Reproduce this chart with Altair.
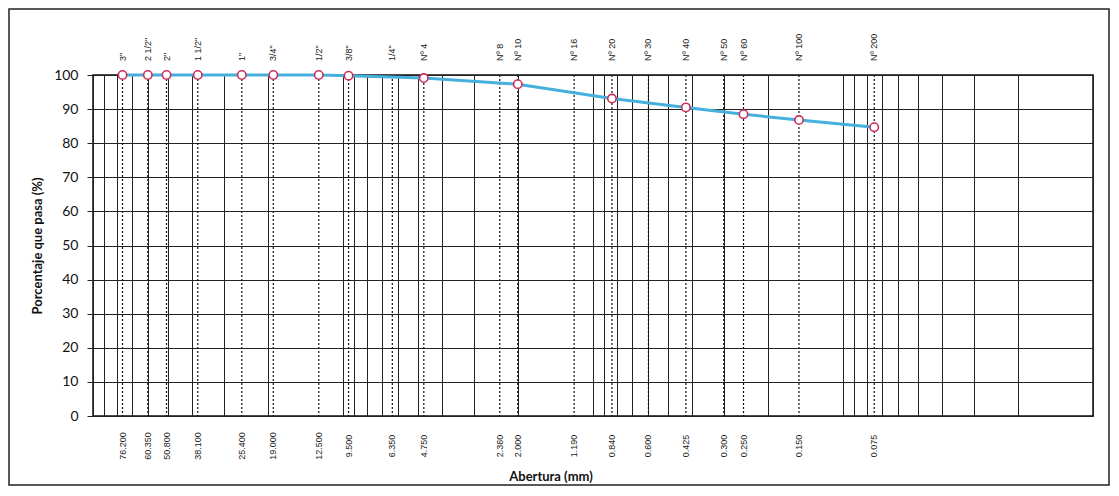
import altair as alt
import pandas as pd

# Sieve designations and openings (mm)
sieve_labels = ['3"', '2 1/2"', '2"', '1 1/2"', '1"', '3/4"', '1/2"', '3/8"', '1/4"', 'Nº 4',
                'Nº 8', 'Nº 10', 'Nº 16', 'Nº 20', 'Nº 30', 'Nº 40', 'Nº 50', 'Nº 60', 'Nº 100', 'Nº 200']
sieve_sizes = [76.2, 60.35, 50.8, 38.1, 25.4, 19.0, 12.5, 9.5, 6.35, 4.75,
               2.36, 2.0, 1.19, 0.84, 0.6, 0.425, 0.3, 0.25, 0.15, 0.075]
size_text = ['76.200', '60.350', '50.800', '38.100', '25.400', '19.000', '12.500', '9.500', '6.350', '4.750',
             '2.360', '2.000', '1.190', '0.840', '0.600', '0.425', '0.300', '0.250', '0.150', '0.075']

# Measured points (opening mm, % passing)
pt_sizes = [76.2, 60.35, 50.8, 38.1, 25.4, 19.0, 12.5, 9.5, 4.75, 2.0, 0.84, 0.425, 0.25, 0.15, 0.075]
pt_pass = [100, 100, 100, 100, 100, 100, 100, 99.8, 99.1, 97.3, 93.1, 90.5, 88.5, 86.8, 84.7]

# log grid lines
grid_vals = [0.01, 0.02, 0.03, 0.04, 0.05, 0.06, 0.07, 0.08, 0.09,
             0.1, 0.2, 0.3, 0.4, 0.5, 0.6, 0.7, 0.8, 0.9,
             1, 2, 3, 4, 5, 6, 7, 8, 9,
             10, 20, 30, 40, 50, 60, 70, 80, 90, 100]
y_ticks = [0, 10, 20, 30, 40, 50, 60, 70, 80, 90, 100]

W, H = 1000, 341
FONT = "Lato"

sieves = pd.DataFrame({"size": sieve_sizes, "label": sieve_labels, "txt": size_text})
pts = pd.DataFrame({"size": pt_sizes, "pass": pt_pass})
one = pd.DataFrame({"a": [0]})

xscale = alt.Scale(type="log", domain=[0.01, 100], reverse=True)
yscale = alt.Scale(domain=[0, 100])

X = alt.X("size:Q", scale=xscale,
          axis=alt.Axis(values=grid_vals, labels=False, ticks=False, domain=False,
                        grid=True, gridColor="#222222", gridWidth=1, gridOpacity=1, title=None))
Y = alt.Y("pass:Q", scale=yscale,
          axis=alt.Axis(values=y_ticks, grid=True, gridColor="#222222", gridWidth=1, gridOpacity=1,
                        tickSize=6, tickColor="#222222", domain=False, labelPadding=9,
                        labelFontSize=14, labelFont=FONT, labelColor="#111111", labelOverlap=False,
                        title="Porcentaje que pasa (%)", titleFont=FONT, titleFontSize=13,
                        titleFontWeight="bold", titleColor="#111111", titlePadding=9))

line = alt.Chart(pts).mark_line(color="#45b0dc", strokeWidth=3).encode(x=X, y=Y)

points = alt.Chart(pts).mark_point(shape="circle", size=70, filled=False, fill="white",
                                   stroke="#c8325a", strokeWidth=1.6, opacity=1).encode(x=X, y=Y)

dotted = alt.Chart(sieves).mark_rule(color="#111111", strokeWidth=1.2, strokeDash=[2, 2]).encode(
    x=X,
    y=alt.value(0),
    y2=alt.value(H),
)

top_labels = alt.Chart(sieves).mark_text(angle=270, align="left", baseline="middle",
                                         fontSize=9, font="Liberation Sans", color="#222222").encode(
    x=X,
    y=alt.value(-14),
    text="label:N",
)

bottom_labels = alt.Chart(sieves).mark_text(angle=270, align="center", baseline="middle",
                                            fontSize=9, font="Liberation Sans", color="#222222").encode(
    x=X,
    y=alt.value(H + 30),
    text="txt:N",
)

x_title = alt.Chart(one).mark_text(text="Abertura (mm)", font=FONT, fontSize=13, fontWeight="bold",
                                   color="#111111", align="center", baseline="middle").encode(
    x=alt.value(458), y=alt.value(H + 61),
)

frame = alt.Chart(one).mark_rect(filled=False, stroke="#222222", strokeWidth=1.5).encode(
    x=alt.value(-84), x2=alt.value(1016), y=alt.value(-66), y2=alt.value(H + 69),
)

chart = alt.layer(dotted, line, points, top_labels, bottom_labels, x_title, frame).properties(
    width=W, height=H,
    autosize=alt.AutoSizeParams(type="none"),
    padding={"left": 85, "top": 67, "right": 18, "bottom": 70},
    background="white",
).configure_view(stroke="#111111", strokeWidth=1.5)

chart.save("out.html", embed_options={"renderer": "svg", "actions": False})
